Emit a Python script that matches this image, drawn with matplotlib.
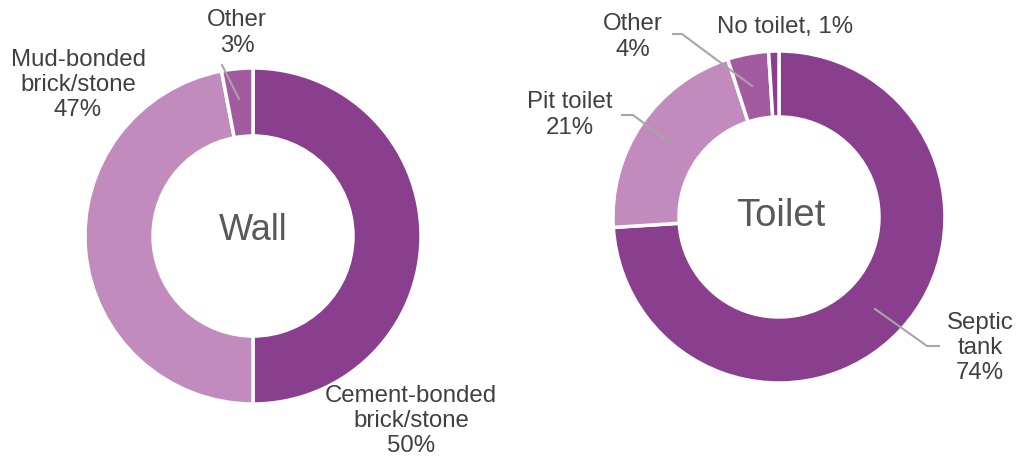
import matplotlib.pyplot as plt

plt.rcParams['font.family'] = ['Liberation Sans', 'DejaVu Sans']

# 데이터
wall_labels = ['Cement-bonded\nbrick/stone', 'Mud-bonded\nbrick/stone', 'Other']
wall_values = [50, 47, 3]
toilet_labels = ['Septic\ntank', 'Pit toilet', 'Other', 'No toilet']
toilet_values = [74, 21, 4, 1]

dark, light, mid = '#8A3F8E', '#C28BBE', '#A35B9F'
wall_colors = [dark, light, mid]
toilet_colors = [dark, light, mid, dark]
txt = '#404040'
lc = '#A6A6A6'

W, H = 1021, 463
fig = plt.figure(figsize=(W / 100, H / 100), dpi=100)
ax = fig.add_axes([0, 0, 1, 1])

ax.pie(wall_values, colors=wall_colors, startangle=90, counterclock=False,
       radius=168, center=(253, H - 236),
       wedgeprops=dict(width=68, edgecolor='white', linewidth=2.5))
ax.pie(toilet_values, colors=toilet_colors, startangle=90, counterclock=False,
       radius=166, center=(779, H - 217),
       wedgeprops=dict(width=66, edgecolor='white', linewidth=2.5))

ax.set_xlim(0, W)
ax.set_ylim(0, H)
ax.set_aspect('equal')
ax.axis('off')

fs = 17.3
def lab(s, x, y):
    ax.text(x, H - y, s, ha='center', va='center', fontsize=fs, color=txt, linespacing=1.2)

def leader(pts):
    ax.plot([p[0] for p in pts], [H - p[1] for p in pts], color=lc, lw=1.5)

# 왼쪽 (Wall)
ax.text(253, H - 231, 'Wall', ha='center', va='center', fontsize=26, color='#595959')
lab(f'{wall_labels[2]}\n{wall_values[2]}%', 237, 33)
lab(f'{wall_labels[1]}\n{wall_values[1]}%', 78, 85)
lab(f'{wall_labels[0]}\n{wall_values[0]}%', 411, 421)
leader([(222, 65), (239, 99)])

# 오른쪽 (Toilet)
ax.text(781, H - 216, 'Toilet', ha='center', va='center', fontsize=27.5, color='#595959')
lab(f'{toilet_labels[2]}\n{toilet_values[2]}%', 633, 37)
lab(f'{toilet_labels[3]}, {toilet_values[3]}%', 785, 27)
lab(f'{toilet_labels[1]}\n{toilet_values[1]}%', 570, 115)
lab(f'{toilet_labels[0]}\n{toilet_values[0]}%', 980, 348)
leader([(673, 34), (682, 34), (752, 86)])
leader([(622, 115), (633, 115), (669, 142)])
leader([(875, 309), (927, 346), (939, 346)])

fig.savefig('out.png', dpi=100)
